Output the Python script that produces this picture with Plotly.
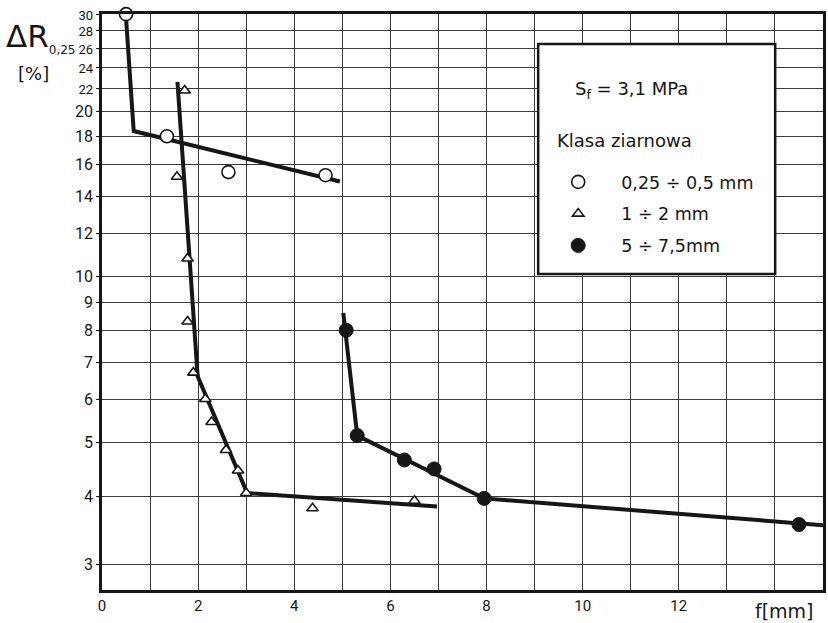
import plotly.graph_objects as go
import math

# ---- data ----
f_fine = [0.5, 1.35, 2.63, 4.65]
dR_fine = [30.0, 18.0, 15.5, 15.3]

f_mid = [1.72, 1.56, 1.78, 1.78, 1.90, 2.15, 2.28, 2.58, 2.83, 3.00, 4.38, 6.50]
dR_mid = [21.8, 15.2, 10.8, 8.3, 6.7, 6.0, 5.45, 4.85, 4.45, 4.05, 3.80, 3.92]

f_coarse = [5.08, 5.31, 6.29, 6.91, 7.95, 14.5]
dR_coarse = [8.0, 5.15, 4.65, 4.48, 3.96, 3.55]

# hand-drawn fitted curves
fit_f_fine = [0.5, 0.66, 4.95]
fit_dR_fine = [29.5, 18.4, 14.9]
fit_f_mid = [1.57, 1.99, 3.02, 6.97]
fit_dR_mid = [22.6, 6.6, 4.05, 3.83]
fit_f_coarse = [5.02, 5.31, 7.95, 15.0]
fit_dR_coarse = [8.6, 5.15, 3.96, 3.54]

series_names = ["0,25 ÷ 0,5 mm", "1 ÷ 2 mm", "5 ÷ 7,5mm"]

x_ticks = [0, 2, 4, 6, 8, 10, 12]
x_tick_labels = ["0", "2", "4", "6", "8", "10", "12"]
y_ticks = [3, 4, 5, 6, 7, 8, 9, 10, 12, 14, 16, 18, 20, 22, 24, 26, 28, 30]
y_small = {22, 24, 26, 28, 30}
y_tick_labels = [
    (f'<span style="font-size:13px">{v}</span>' if v in y_small else str(v))
    for v in y_ticks
]

INK = "#161616"
GRID = "#3a3a3a"

fig = go.Figure()

for fx, fy in [(fit_f_fine, fit_dR_fine), (fit_f_mid, fit_dR_mid), (fit_f_coarse, fit_dR_coarse)]:
    fig.add_trace(go.Scatter(x=fx, y=fy, mode="lines", showlegend=False,
                             line=dict(color=INK, width=4), hoverinfo="skip",
                             cliponaxis=False))

fig.add_trace(go.Scatter(
    x=f_fine, y=dR_fine, mode="markers", name=series_names[0], legendgroup="a",
    marker=dict(symbol="circle", size=13, color="white", line=dict(color=INK, width=1.6)),
    cliponaxis=False))
fig.add_trace(go.Scatter(
    x=f_mid, y=dR_mid, mode="markers", name=series_names[1], legendgroup="b",
    marker=dict(symbol="triangle-up", size=10, color="white", line=dict(color=INK, width=1.6)),
    cliponaxis=False))
fig.add_trace(go.Scatter(
    x=f_coarse, y=dR_coarse, mode="markers", name=series_names[2], legendgroup="c",
    marker=dict(symbol="circle", size=14, color=INK, line=dict(color=INK, width=1)),
    cliponaxis=False))

L, R, T, B = 102, 2, 14, 33
W, H = 828, 623
PW, PH = W - L - R, H - T - B


def px(xp):
    return (xp - L) / PW


def py(yp):
    return (H - B - yp) / PH


fig.update_layout(
    width=W, height=H,
    margin=dict(l=L, r=R, t=T, b=B, pad=0),
    paper_bgcolor="white", plot_bgcolor="white",
    font=dict(family="DejaVu Sans", color=INK),
    xaxis=dict(
        range=[0, 15], tickvals=x_ticks, ticktext=x_tick_labels,
        showgrid=True, gridcolor=GRID, gridwidth=1,
        minor=dict(tick0=0, dtick=1, showgrid=True, gridcolor=GRID, gridwidth=1),
        showline=True, linecolor=INK, linewidth=2.5, mirror=True,
        zeroline=False, ticks="", tickfont=dict(family="Roboto", size=15, color=INK),
    ),
    yaxis=dict(
        type="log", range=[math.log10(2.70), math.log10(30.02)],
        tickvals=y_ticks, ticktext=y_tick_labels,
        showgrid=True, gridcolor=GRID, gridwidth=1,
        showline=True, linecolor=INK, linewidth=2.5, mirror=True,
        zeroline=False, ticks="outside", ticklen=3, tickcolor=INK,
        tickfont=dict(family="Roboto", size=16, color=INK),
    ),
    showlegend=True,
    legend=dict(
        x=px(537), y=py(164),
        xanchor="left", yanchor="top",
        bgcolor="rgba(0,0,0,0)", borderwidth=0,
        font=dict(size=17.5, family="DejaVu Sans", color=INK),
        traceorder="grouped", tracegroupgap=6, itemwidth=76,
    ),
    shapes=[dict(
        type="rect", xref="paper", yref="paper",
        x0=px(540), x1=px(778), y0=py(274), y1=py(44),
        line=dict(color=INK, width=2.5), fillcolor="white", layer="above",
    )],
    annotations=[
        dict(text="S<sub>f</sub> = 3,1 MPa", xref="paper", yref="paper",
             x=px(575), y=py(90), xanchor="left", yanchor="middle", showarrow=False,
             font=dict(size=18, family="DejaVu Sans", color=INK)),
        dict(text="Klasa ziarnowa", xref="paper", yref="paper",
             x=px(557), y=py(140), xanchor="left", yanchor="middle", showarrow=False,
             font=dict(size=18, family="DejaVu Sans", color=INK)),
        dict(text='ΔR<sub><span style="font-size:12px">0,25</span></sub>',
             xref="paper", yref="paper",
             x=px(4), y=py(38), xanchor="left", yanchor="middle", showarrow=False,
             font=dict(size=31, family="DejaVu Sans", color=INK)),
        dict(text="[%]", xref="paper", yref="paper",
             x=px(33), y=py(73), xanchor="center", yanchor="middle", showarrow=False,
             font=dict(size=18, family="DejaVu Sans", color=INK)),
        dict(text="f[mm]", xref="paper", yref="paper",
             x=px(819), y=py(611), xanchor="right", yanchor="middle", showarrow=False,
             font=dict(size=19, family="DejaVu Sans", color=INK)),
    ],
)

fig.write_html("out.html", config={"displayModeBar": False},
               post_script="document.body.style.margin='0px';")
